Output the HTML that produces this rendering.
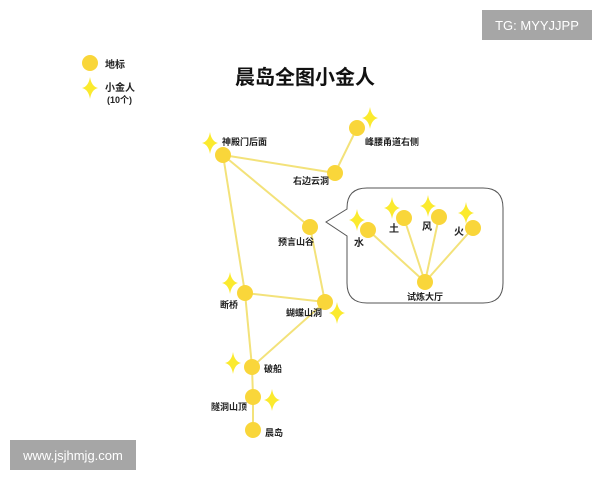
<!DOCTYPE html>
<html><head><meta charset="utf-8"><style>
html,body{margin:0;padding:0;background:#fff;}
svg{display:block;}
text{font-family:"Liberation Sans","Noto Sans CJK SC",sans-serif;fill:#222;}
</style></head><body>
<svg width="600" height="480" viewBox="0 0 600 480" xmlns="http://www.w3.org/2000/svg">
<defs>
<path id="st" d="M0,-11 Q1.5,-1.5 8,0 Q1.5,1.5 0,11 Q-1.5,1.5 -8,0 Q-1.5,-1.5 0,-11Z" fill="#fbea2e"/>
</defs>
<rect x="482" y="10" width="110" height="30" fill="#a6a6a6"/>
<text x="537" y="30" font-size="13" text-anchor="middle" style="fill:#fff">TG: MYYJJPP</text>
<rect x="10" y="440" width="126" height="30" fill="#a6a6a6"/>
<text x="73" y="460" font-size="13" text-anchor="middle" style="fill:#fff">www.jsjhmjg.com</text>

<circle cx="90" cy="63" r="8" fill="#f9d63a"/>
<text x="105" y="68" font-size="10" font-weight="bold">地标</text>
<use href="#st" x="90" y="88"/>
<text x="105" y="91" font-size="10" font-weight="bold">小金人</text>
<text x="107" y="103" font-size="9" font-weight="bold">(10个)</text>
<text x="305" y="84" font-size="20" font-weight="bold" text-anchor="middle" style="fill:#111">晨岛全图小金人</text>

<path d="M367,188 H483 Q503,188 503,208 V283 Q503,303 483,303 H367 Q347,303 347,283 V236 L326,222 L347,209 V208 Q347,188 367,188Z" fill="#fff" stroke="#555" stroke-width="1"/>

<g stroke="#f3e27a" stroke-width="2" fill="none">
<path d="M223,155 L335,173 L357,128"/>
<path d="M223,155 L310,227 L325,302 L245,293 L223,155"/>
<path d="M245,293 L252,367 L325,302"/>
<path d="M252,367 L253,397 L253,430"/>
<path d="M425,282 L368,230 M425,282 L404,218 M425,282 L439,217 M425,282 L473,228"/>
</g>
<g fill="#f9d63a">
<circle cx="223" cy="155" r="8"/><circle cx="357" cy="128" r="8"/><circle cx="335" cy="173" r="8"/>
<circle cx="310" cy="227" r="8"/><circle cx="245" cy="293" r="8"/><circle cx="325" cy="302" r="8"/>
<circle cx="252" cy="367" r="8"/><circle cx="253" cy="397" r="8"/><circle cx="253" cy="430" r="8"/>
<circle cx="368" cy="230" r="8"/><circle cx="404" cy="218" r="8"/><circle cx="439" cy="217" r="8"/>
<circle cx="473" cy="228" r="8"/><circle cx="425" cy="282" r="8"/>
</g>
<use href="#st" x="210" y="143"/><use href="#st" x="370" y="118"/><use href="#st" x="230" y="283"/>
<use href="#st" x="337" y="313"/><use href="#st" x="233" y="363"/><use href="#st" x="272" y="400"/>
<use href="#st" x="357" y="220"/><use href="#st" x="392" y="208"/><use href="#st" x="428" y="206"/><use href="#st" x="466" y="213"/>

<g font-size="9" font-weight="bold">
<text x="222" y="145">神殿门后面</text>
<text x="365" y="145">峰腰甬道右侧</text>
<text x="329" y="184" text-anchor="end">右边云洞</text>
<text x="296" y="245" text-anchor="middle">预言山谷</text>
<text x="229" y="308" text-anchor="middle">断桥</text>
<text x="304" y="316" text-anchor="middle">蝴蝶山洞</text>
<text x="264" y="372">破船</text>
<text x="229" y="410" text-anchor="middle">隧洞山顶</text>
<text x="265" y="436">晨岛</text>
<text x="425" y="300" text-anchor="middle">试炼大厅</text>
<text x="359" y="246" text-anchor="middle" font-size="10">水</text>
<text x="394" y="232" text-anchor="middle" font-size="10">土</text>
<text x="427" y="230" text-anchor="middle" font-size="10">风</text>
<text x="459" y="235" text-anchor="middle" font-size="10">火</text>
</g>
</svg>
</body></html>
